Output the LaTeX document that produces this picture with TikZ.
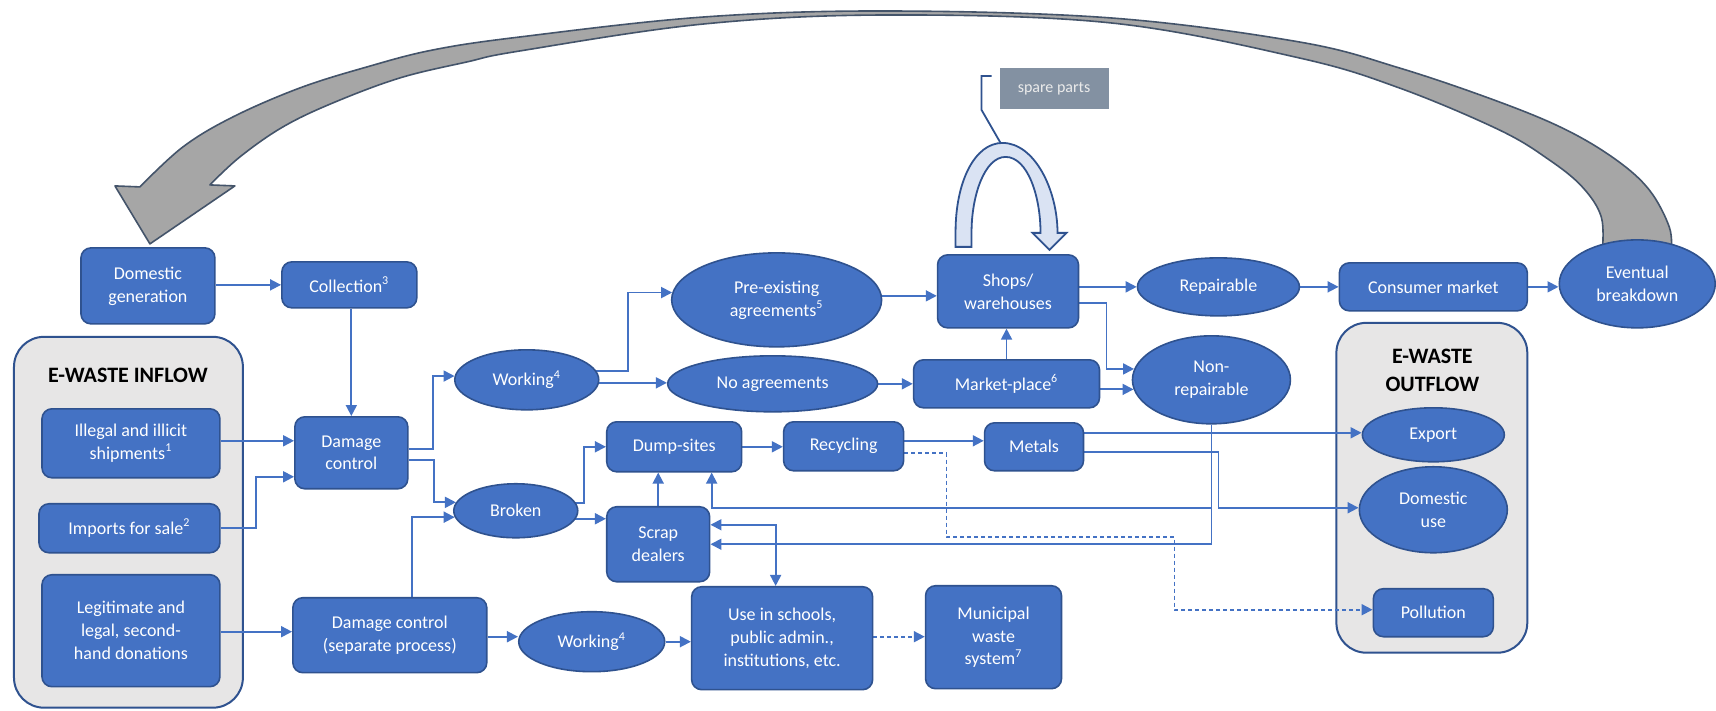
\documentclass[tikz,border=0pt]{standalone}
\usepackage{fontspec}
\setmainfont{Carlito}
\usetikzlibrary{arrows.meta,shapes.geometric,calc}

\definecolor{nodefill}{HTML}{4472C4}
\definecolor{nodeedge}{HTML}{2F528F}
\definecolor{wire}{HTML}{4472C4}
\definecolor{panelgray}{HTML}{E7E6E6}
\definecolor{loopgray}{HTML}{A6A6A6}
\definecolor{loopedge}{HTML}{44546A}
\definecolor{partsfill}{HTML}{DAE3F3}
\definecolor{calloutfill}{HTML}{8391A2}

\pgfdeclarelayer{panels}
\pgfdeclarelayer{wires}
\pgfsetlayers{panels,wires,main}

\tikzset{
  wh/.style n args={2}{minimum width=#1pt, minimum height=#2pt},
  nodetext/.style={text=white, align=center, font=\fontsize{9}{11.5}\selectfont},
  box/.style={nodetext, draw=nodeedge, fill=nodefill, line width=0.8pt,
              rounded corners=5pt, inner sep=2pt},
  oval/.style={nodetext, ellipse, draw=nodeedge, fill=nodefill, line width=0.8pt,
               inner sep=0pt},
  panelbox/.style={draw=nodeedge, fill=panelgray, line width=1pt, rounded corners=15pt},
  paneltitle/.style={align=center, font=\bfseries\fontsize{11}{14}\selectfont},
  tip/.style={-{Triangle[length=5.5pt,width=5.5pt]}},
  flow/.style={draw=wire, line width=0.9pt, tip},
  dashflow/.style={flow, dash pattern=on 2pt off 1.5pt},
  twoway/.style={flow, {Triangle[length=5.5pt,width=5.5pt]}-{Triangle[length=5.5pt,width=5.5pt]}},
}

\begin{document}
\begin{tikzpicture}[x=0.5pt, y=-0.5pt]

% ---------- page and the two grey panels ----------
\begin{pgfonlayer}{panels}
  \path[use as bounding box, fill=white] (0,0) rectangle (1716,711);
  \node[panelbox, wh={114.5}{185.5}] (inflow)  at (128.5,522.5) {};
  \node[panelbox, wh={95.5}{165}]    (outflow) at (1432.5,488) {};
\end{pgfonlayer}

\node[paneltitle] (intitle)  at (128,376)  {E-WASTE INFLOW};
\node[paneltitle] (outtitle) at (1433,371) {E-WASTE\\OUTFLOW};

% ---------- process nodes ----------
\node[box,  wh={67}{38}]     (dom)    at (148,286)     {Domestic\\generation};
\node[box,  wh={67.5}{23}]   (coll)   at (349.5,285)   {Collection\textsuperscript{3}};
\node[box,  wh={89}{34.5}]   (ill)    at (131,443.5)   {Illegal and illicit\\shipments\textsuperscript{1}};
\node[box,  wh={90.5}{24.5}] (imp)    at (129.5,528.5) {Imports for sale\textsuperscript{2}};
\node[box,  wh={89}{56}]     (leg)    at (131,631)     {Legitimate and\\legal, second-\\hand donations};
\node[box,  wh={56.5}{36}]   (dc)     at (351.5,453)   {Damage\\control};
\node[box,  wh={97}{37.5}]   (dcs)    at (390,635.5)   {Damage control\\(separate process)};
\node[oval, wh={72}{30}]     (work1)  at (527,380)     {Working\textsuperscript{4}};
\node[oval, wh={62}{27}]     (broken) at (516,511)     {Broken};
\node[oval, wh={73}{30}]     (work2)  at (592,642)     {Working\textsuperscript{4}};
\node[oval, wh={105}{47}]    (pre)    at (777,300)     {Pre-existing\\agreements\textsuperscript{5}};
\node[oval, wh={105}{28}]    (noag)   at (773,384)     {No agreements};
\node[box,  wh={67.5}{25}]   (dump)   at (674.5,447)   {Dump-sites};
\node[box,  wh={60}{24.5}]   (recy)   at (844,446.5)   {Recycling};
\node[box,  wh={51.5}{37.5}] (scrap)  at (658.5,544.5) {Scrap\\dealers};
\node[box,  wh={90.5}{51.5}] (use)    at (782.5,638.5) {Use in schools,\\public admin.,\\institutions, etc.};
\node[box,  wh={70.5}{36.5}] (shops)  at (1008.5,291.5){Shops/\\warehouses};
\node[box,  wh={93}{24}]     (market) at (1007,384)    {Market-place\textsuperscript{6}};
\node[box,  wh={49.5}{24}]   (metals) at (1034.5,447)  {Metals};
\node[box,  wh={68}{51.5}]   (muni)   at (994,637.5)   {Municipal\\waste\\system\textsuperscript{7}};
\node[oval, wh={81}{29}]     (rep)    at (1219,287)    {Repairable};
\node[oval, wh={79}{44}]     (nonrep) at (1212,380)    {Non-\\repairable};
\node[box,  wh={94}{24}]     (cons)   at (1434,287)    {Consumer market};
\node[oval, wh={78}{44}]     (evb)    at (1638,284)    {Eventual\\breakdown};
\node[oval, wh={71}{27}]     (export) at (1434,435)    {Export};
\node[oval, wh={74}{43}]     (domuse) at (1434,510)    {Domestic\\use};
\node[box,  wh={60}{24}]     (poll)   at (1434,613)    {Pollution};

% ---------- connectors ----------
\begin{pgfonlayer}{wires}
  % big return loop from breakdown back to domestic generation
  \filldraw[fill=loopgray, draw=loopedge, line width=0.8pt, line join=round]
    plot[smooth, tension=0.6] coordinates {(1672,252) (1670,227) (1650,190) (1617,160)
      (1567,130) (1500,102) (1400,68) (1300,42) (1112,18) (888,11) (704,17) (520,37)
      (433,50) (367,67) (300,88) (233,117) (183,147) (140,187)}
    -- (115,186) -- (150,244) -- (235,186) -- (210,185)
    -- plot[smooth, tension=0.6] coordinates {(210,185) (240,157) (283,127) (333,103)
      (400,78) (467,62) (520,51) (704,24) (888,15) (1112,23) (1300,58) (1400,88)
      (1500,130) (1550,160) (1583,187) (1602,217) (1603,252)}
    -- cycle;

  \draw[flow] (dom.east |- coll.west) -- (coll.west);
  \draw[flow] (coll.south -| dc.north) -- (dc.north);
  \draw[flow] (ill.east |- 0,441) -- (dc.west |- 0,441);
  \draw[flow] (imp.east) -- ++(35,0) |- (dc.west |- 0,477);
  \draw[flow] (leg.east |- 0,632) -- (dcs.west |- 0,632);
  \draw[flow] (dc.east |- 0,449) -- ++(24,0) |- (work1.177);
  \draw[flow] (dc.east |- 0,460) -- ++(25,0) |- (broken.172);
  \draw[flow] (dcs.north -| 412,0) |- (broken.186);
  \draw[flow] (dcs.east |- 0,637) -- (work2.west |- 0,637);
  \draw[flow] (work2.east) -- (use.west |- work2.east);
  \draw[dashflow] (use.east |- 0,637) -- (muni.west |- 0,637);

  \draw[flow] (work1.center |- 0,371) -- (628,371) |- (pre.176);
  \draw[flow] (work1.center |- 0,383) -- (noag.west |- 0,383);
  \draw[flow] (pre.center |- 0,296) -- (shops.west |- 0,296);
  \draw[flow] (noag.east) -- (market.west |- noag.east);
  \draw[flow] (market.north) -- (market.north |- shops.south);
  \draw[flow] (market.east |- nonrep.187) -- (nonrep.187);
  \draw[flow] (shops.east |- 0,303) -- (1107,303) |- (nonrep.172);
  \draw[flow] (shops.east |- rep.west) -- (rep.west);
  \draw[flow] (rep.east) -- (cons.west);
  \draw[flow] (cons.east) -- (evb.west |- cons.east);

  \draw[flow] (broken.center |- 0,503) -- (584,503) |- (dump.west);
  \draw[flow] (broken.center |- 0,519) -- (scrap.west |- 0,519);
  \draw[flow] (scrap.north) -- (scrap.north |- dump.south);
  \draw[flow] (dump.east) -- (recy.west |- dump.east);
  \draw[flow] (recy.east |- 0,441) -- (metals.west |- 0,441);
  \draw[dashflow] (recy.east |- 0,453) -- (947,453) -- (947,537) -- (1175,537)
                  |- (poll.west |- 0,610);
  \draw[flow] (metals.east |- 0,433) -- (export.west |- 0,433);
  \draw[flow] (metals.east |- 0,452) -- (1219,452) |- (domuse.west |- 0,508);
  \draw[flow] (nonrep.south) |- (712,508) -- (712,508 |- dump.south);
  \draw[flow] (nonrep.south) |- (scrap.east);
  \draw[twoway] (scrap.east |- 0,525) -| (776,0 |- use.north);
\end{pgfonlayer}

% ---------- spare-parts loop over the shops ----------
\filldraw[fill=partsfill, draw=nodeedge, line width=0.9pt, line join=miter]
  (956,247) -- (956,232) .. controls (956,182) and (975,143) .. (1003,143)
  .. controls (1035,143) and (1058,190) .. (1058,233)
  -- (1067,233) -- (1050,250) -- (1033,233) -- (1041,233)
  .. controls (1041,196) and (1028,157) .. (1006,157)
  .. controls (985,157) and (972,196) .. (972,232) -- (972,247) -- cycle;
\coordinate (looptop) at (1001,143);

\node[fill=calloutfill, text=white!92!black, wh={54.5}{20.5}, inner sep=0pt,
      font=\fontsize{8}{9}\selectfont] (spare) at (1054.5,88.5) {spare parts};
\draw[draw=nodeedge, line width=0.9pt] (992,76) -- (982,76) -- (982,110) -- (looptop);

\end{tikzpicture}
\end{document}
